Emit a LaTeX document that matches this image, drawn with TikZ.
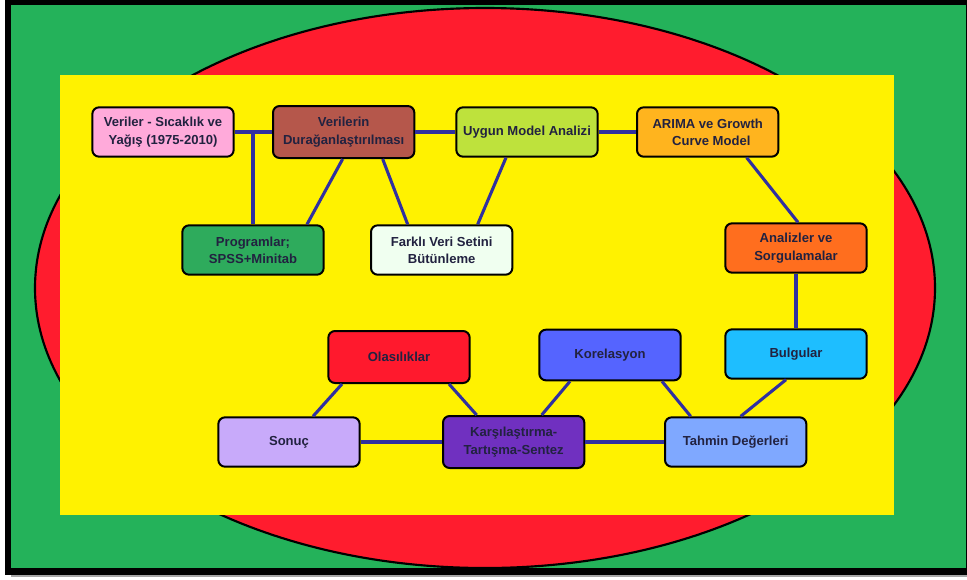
\documentclass[tikz,border=0pt]{standalone}
\usepackage{fontspec}
\setmainfont{Liberation Sans}
\usetikzlibrary{positioning}

\definecolor{framegreen}{RGB}{36,178,90}
\definecolor{ovalred}{RGB}{255,28,46}
\definecolor{linkblue}{RGB}{48,48,160}
\definecolor{textnavy}{RGB}{34,34,64}
\definecolor{cpink}{RGB}{255,170,218}
\definecolor{cbrown}{RGB}{181,87,75}
\definecolor{clime}{RGB}{190,226,60}
\definecolor{camber}{RGB}{255,180,30}
\definecolor{cgreen}{RGB}{46,171,92}
\definecolor{cmint}{RGB}{240,255,240}
\definecolor{corange}{RGB}{255,110,30}
\definecolor{ccyan}{RGB}{30,190,255}
\definecolor{cred}{RGB}{255,25,45}
\definecolor{cblue}{RGB}{85,100,255}
\definecolor{clilac}{RGB}{200,170,250}
\definecolor{cpurple}{RGB}{112,48,192}
\definecolor{csky}{RGB}{127,168,255}

\begin{document}
\begin{tikzpicture}[x=0.75pt,y=-0.75pt,
  box/.style={rectangle,draw=black,line width=1.5pt,rounded corners=5pt,
              minimum width=106pt,minimum height=37pt,align=center,
              text=textnavy,font=\fontsize{9.8}{13}\selectfont\bfseries},
  link/.style={draw=linkblue,line width=2.3pt}]

\useasboundingbox (0,0) rectangle (967,579);

% frame, oval and panel
\fill[white] (0,0) rectangle (967,579);
\fill[gray!70] (11,575) rectangle (967,577);
\fill[black] (5,0) rectangle (967,575);
\fill[framegreen] (11,5) rectangle (966,568);
\draw[fill=ovalred,line width=1.6pt] (485,288) ellipse [x radius=450,y radius=280];
\fill[yellow] (60,75) rectangle (894,515);

% top row
\node[box,fill=cpink] (veriler) at (163,132) {Veriler - Sıcaklık ve\\Yağış (1975-2010)};
\node[box,fill=cbrown,minimum height=39pt,right=28pt of veriler] (verilerin)
  {Verilerin\\Durağanlaştırılması};
\node[box,fill=clime,right=30pt of verilerin] (uygun) {Uygun Model Analizi};
\node[box,fill=camber,right=28pt of uygun] (arima) {ARIMA ve Growth\\\ \ Curve Model};

% second row
\node[box,fill=cgreen] (programlar) at (253,250) {Programlar;\\SPSS+Minitab};
\node[box,fill=cmint,right=34pt of programlar] (farkli) {Farklı Veri Setini\\Bütünleme};
\node[box,fill=corange] (analizler) at (796,248) {Analizler ve\\Sorgulamalar};
\node[box,fill=ccyan,below=41pt of analizler] (bulgular) {Bulgular};

% lower rows
\node[box,fill=cred,minimum height=39pt] (olasilik) at (399,357) {Olasılıklar};
\node[box,fill=cblue,minimum height=38pt] (korelasyon) at (610,355) {Korelasyon};
\node[box,fill=clilac] (sonuc) at (289,442) {Sonuç};
\node[box,fill=cpurple,minimum height=39pt,right=61pt of sonuc] (karsi)
  {Karşılaştırma-\\Tartışma-Sentez};
\node[box,fill=csky,right=59pt of karsi] (tahmin) {Tahmin Değerleri};

% connectors
\draw[link] (veriler.east) -- (verilerin.west);
\draw[link] (programlar.north) -- (programlar.north |- veriler.east);
\draw[link] ([xshift=-0.75pt]verilerin.south) -- ([xshift=40.5pt]programlar.north);
\draw[link] ([xshift=29.25pt]verilerin.south) -- ([xshift=-25.5pt]farkli.north);
\draw[link] (verilerin.east) -- (uygun.west);
\draw[link] ([xshift=-15.75pt]uygun.south) -- ([xshift=27pt]farkli.north);
\draw[link] (uygun.east) -- (arima.west);
\draw[link] ([xshift=29.25pt]arima.south) -- ([xshift=1.5pt]analizler.north);
\draw[link] (analizler.south) -- (bulgular.north);
\draw[link] ([xshift=-7.5pt]bulgular.south) -- ([xshift=3.75pt]tahmin.north);
\draw[link] ([xshift=-30pt]korelasyon.south) -- ([xshift=21pt]karsi.north);
\draw[link] ([xshift=39pt]korelasyon.south) -- ([xshift=-33.75pt]tahmin.north);
\draw[link] ([xshift=-42.75pt]olasilik.south) -- ([xshift=18pt]sonuc.north);
\draw[link] ([xshift=37.5pt]olasilik.south) -- ([xshift=-27.75pt]karsi.north);
\draw[link] (sonuc.east) -- (karsi.west);
\draw[link] (karsi.east) -- (tahmin.west);
\end{tikzpicture}
\end{document}
